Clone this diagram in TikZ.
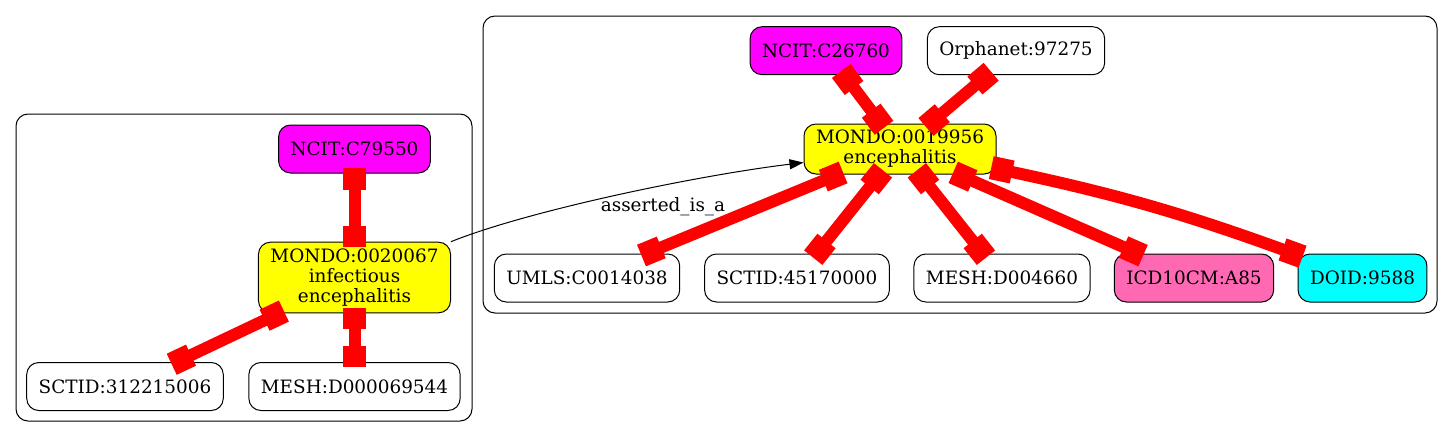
\documentclass[tikz,border=0pt]{standalone}
\usepackage{fontspec}
\setmainfont{DejaVu Serif}
\usetikzlibrary{arrows.meta}
\definecolor{hotpink}{HTML}{FF69B4}
\definecolor{pureMagenta}{HTML}{FF00FF}
\definecolor{pureYellow}{HTML}{FFFF00}
\definecolor{pureCyan}{HTML}{00FFFF}
\tikzset{
  term/.style={draw, line width=0.75pt, rounded corners=9pt, minimum height=36pt,
    inner xsep=9pt, inner ysep=2pt, align=center,
    font=\fontsize{13.8pt}{15pt}\selectfont},
  cluster/.style={draw, line width=0.75pt, rounded corners=9pt},
  xref/.style={red, line width=9pt,
    {Rectangle[length=16pt,width=17.5pt]}-{Rectangle[length=16pt,width=17.5pt]},
    shorten <=-4pt, shorten >=-4pt},
  isa/.style={line width=0.75pt, -{Triangle[length=10.5pt,width=7.5pt]}}
}
\begin{document}
\begin{tikzpicture}[x=0.75pt,y=-0.75pt]
      \useasboundingbox (0,0) rectangle (1453,437);
      \draw[cluster] (16,114) rectangle (472,421);
      \draw[cluster] (483,16) rectangle (1437,313);
      \path
        (354.5,149) node[term,fill=pureMagenta] (ncitA){NCIT:C79550}
        (354.5,277.5) node[term,fill=pureYellow,minimum height=53pt] (mondoA){MONDO:0020067\\infectious\\encephalitis}
        (125,386.5) node[term] (sctidA){SCTID:312215006}
        (354.5,386.5) node[term] (meshA){MESH:D000069544}
        (826,50.7) node[term,fill=pureMagenta] (ncitB){NCIT:C26760}
        (1016,50.7) node[term] (orphaB){Orphanet:97275}
        (900,149) node[term,fill=pureYellow,minimum height=37.5pt] (mondoB){MONDO:0019956\\encephalitis}
        (587,278) node[term] (umlsB){UMLS:C0014038}
        (797,278) node[term] (sctidB){SCTID:45170000}
        (1002,278) node[term] (meshB){MESH:D004660}
        (1194,278) node[term,fill=hotpink] (icdB){ICD10CM:A85}
        (1362.5,278) node[term,fill=pureCyan] (doidB){DOID:9588}
        (663,207) node[font=\fontsize{13.8pt}{15pt}\selectfont] (isaLbl){asserted\_is\_a};
      \draw[isa] (mondoA.north east) .. controls (530,210) and (700,175) .. (mondoB.188);
      \begin{scope}[xref]
        \draw (ncitA) to (mondoA);
        \draw (mondoA) to (sctidA);
        \draw (mondoA) to (meshA);
        \draw (ncitB) to (mondoB);
        \draw (orphaB) to (mondoB);
        \draw (mondoB) to (umlsB);
        \draw (mondoB) to (sctidB);
        \draw (mondoB) to (meshB);
        \draw (mondoB) to (icdB);
        \draw (mondoB) to[bend left=4] (doidB);
      \end{scope}
    \end{tikzpicture}
\end{document}
